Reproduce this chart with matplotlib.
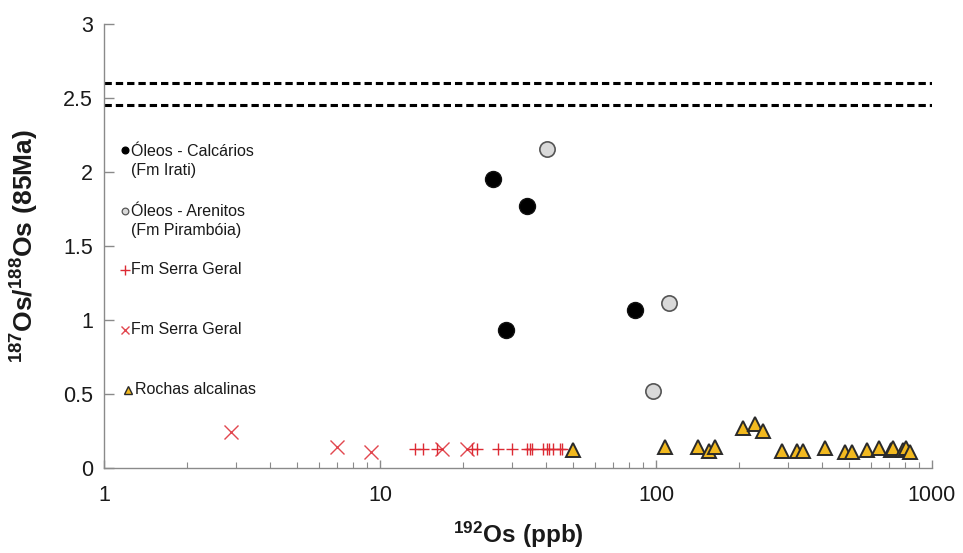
import matplotlib
matplotlib.use("Agg")
import matplotlib.pyplot as plt
from matplotlib.ticker import FixedLocator, FuncFormatter, LogLocator, NullFormatter

plt.rcParams['font.family'] = ['Liberation Sans', 'DejaVu Sans']
plt.rcParams['mathtext.fontset'] = 'custom'
plt.rcParams['mathtext.rm'] = 'Liberation Sans'
plt.rcParams['mathtext.bf'] = 'Liberation Sans:bold'

# Óleos - Calcários (Fm Irati)
irati_os192 = [25.7, 34.1, 28.5, 84.1]
irati_ratio = [1.95, 1.77, 0.93, 1.07]

# Óleos - Arenitos (Fm Pirambóia)
piramboia_os192 = [40.2, 111, 97.8]
piramboia_ratio = [2.155, 1.115, 0.52]

# Fm Serra Geral (+)
sg_plus_os192 = [13.4, 14.3, 16.1, 21.6, 22.5, 26.7, 30.0, 34.0, 34.9, 35.6,
                 38.9, 40.2, 41.0, 42.2, 44.8, 45.8]
sg_plus_ratio = [0.13, 0.13, 0.13, 0.13, 0.13, 0.13, 0.13, 0.13, 0.13, 0.13,
                 0.13, 0.13, 0.13, 0.13, 0.13, 0.13]

# Fm Serra Geral (x)
sg_x_os192 = [2.88, 6.98, 9.27, 16.8, 20.6]
sg_x_ratio = [0.24, 0.14, 0.11, 0.13, 0.13]

# Rochas alcalinas
alc_os192 = [49.9, 108, 142, 155, 164, 206, 228, 244, 286, 323, 340, 410,
             485, 514, 581, 643, 709, 725, 786, 808, 830]
alc_ratio = [0.12, 0.144, 0.144, 0.117, 0.144, 0.268, 0.30, 0.25, 0.117, 0.117,
             0.117, 0.133, 0.11, 0.11, 0.12, 0.133, 0.12, 0.133, 0.12, 0.133, 0.11]

# Reference levels (dashed)
ref_levels = [2.6, 2.45]

x_ticks = [1, 10, 100, 1000]
y_ticks = [0, 0.5, 1, 1.5, 2, 2.5, 3]

RED = '#dc2a33'
RED_X = '#e2474f'
GOLD = '#f2b91f'

fig = plt.figure(figsize=(9.63, 5.53), dpi=100)
ax = fig.add_axes([0.108, 0.1537, 0.8598, 0.8029])

ax.set_xscale('log')
ax.set_xlim(1, 1000)
ax.set_ylim(0, 3)

for lvl in ref_levels:
    ax.axhline(lvl, color='black', lw=2.2, dashes=(2.4, 1.3), zorder=2)

ax.plot(sg_x_os192, sg_x_ratio, ls='none', marker='x', ms=10.5, mew=1.0,
        color=RED_X, zorder=3)
ax.plot(sg_plus_os192, sg_plus_ratio, ls='none', marker='+', ms=8, mew=1.0,
        color=RED, zorder=3)
ax.plot(alc_os192, alc_ratio, ls='none', marker='^', ms=9.5, mew=1.4,
        mfc=GOLD, mec='#2a2a2a', zorder=4)
ax.plot(irati_os192, irati_ratio, ls='none', marker='o', ms=11.5, mew=1.0,
        mfc='black', mec='#111111', zorder=5)
ax.plot(piramboia_os192, piramboia_ratio, ls='none', marker='o', ms=11, mew=1.2,
        mfc='#d9d9d9', mec='#555555', zorder=5)

# Key drawn inside the axes on the left
tr = ax.transAxes
mx, tx = 0.0254, 0.0326
kfs = 11.5
ax.plot([mx], [0.716], transform=tr, ls='none', marker='o', ms=4.8,
        mfc='black', mec='black', clip_on=False)
ax.text(tx, 0.691, 'Óleos - Calcários\n(Fm Irati)', transform=tr, fontsize=kfs,
        va='center', ha='left', linespacing=1.33, color='#1a1a1a')
ax.plot([mx], [0.579], transform=tr, ls='none', marker='o', ms=4.8, mew=0.9,
        mfc='#d9d9d9', mec='#555555', clip_on=False)
ax.text(tx, 0.556, 'Óleos - Arenitos\n(Fm Pirambóia)', transform=tr, fontsize=kfs,
        va='center', ha='left', linespacing=1.33, color='#1a1a1a')
ax.plot([mx], [0.447], transform=tr, ls='none', marker='+', ms=7, mew=1.0,
        color=RED, clip_on=False)
ax.text(tx, 0.447, 'Fm Serra Geral', transform=tr, fontsize=kfs,
        va='center', ha='left', color='#1a1a1a')
ax.plot([mx], [0.311], transform=tr, ls='none', marker='x', ms=6, mew=1.0,
        color=RED_X, clip_on=False)
ax.text(tx, 0.311, 'Fm Serra Geral', transform=tr, fontsize=kfs,
        va='center', ha='left', color='#1a1a1a')
ax.plot([mx + 0.004], [0.176], transform=tr, ls='none', marker='^', ms=6, mew=1.0,
        mfc=GOLD, mec='#2a2a2a', clip_on=False)
ax.text(tx + 0.005, 0.176, 'Rochas alcalinas', transform=tr, fontsize=kfs,
        va='center', ha='left', color='#1a1a1a')

# Axes styling
for side in ('top', 'right'):
    ax.spines[side].set_visible(False)
for side in ('left', 'bottom'):
    ax.spines[side].set_color('#8a8a8a')
    ax.spines[side].set_linewidth(1.0)

ax.xaxis.set_major_locator(FixedLocator(x_ticks))
ax.xaxis.set_minor_locator(LogLocator(base=10, subs=range(2, 10)))
ax.xaxis.set_minor_formatter(NullFormatter())
ax.xaxis.set_major_formatter(FuncFormatter(lambda v, p: f'{v:g}'))
ax.yaxis.set_major_locator(FixedLocator(y_ticks))
ax.yaxis.set_major_formatter(FuncFormatter(lambda v, p: f'{v:g}'))

ax.tick_params(axis='x', which='major', direction='in', length=6, width=1,
               color='#8a8a8a', labelsize=15.5, pad=12, labelcolor='#1a1a1a')
ax.tick_params(axis='x', which='minor', direction='in', length=4, width=0.8,
               color='#8a8a8a')
ax.tick_params(axis='y', which='major', direction='in', length=7, width=1,
               color='#8a8a8a', labelsize=15.5, pad=8, labelcolor='#1a1a1a')

ax.set_xlabel(r'$\mathbf{^{192}Os\ (ppb)}$', fontsize=17.5, color='#1a1a1a',
              va='bottom')
ax.xaxis.set_label_coords(0.5, -0.184)
ax.set_ylabel(r'$\mathbf{^{187}Os/^{188}Os\ (85Ma)}$', fontsize=19, color='#1a1a1a')
ax.yaxis.set_label_coords(-0.076, 0.5)

fig.savefig('out.png', dpi=100)
